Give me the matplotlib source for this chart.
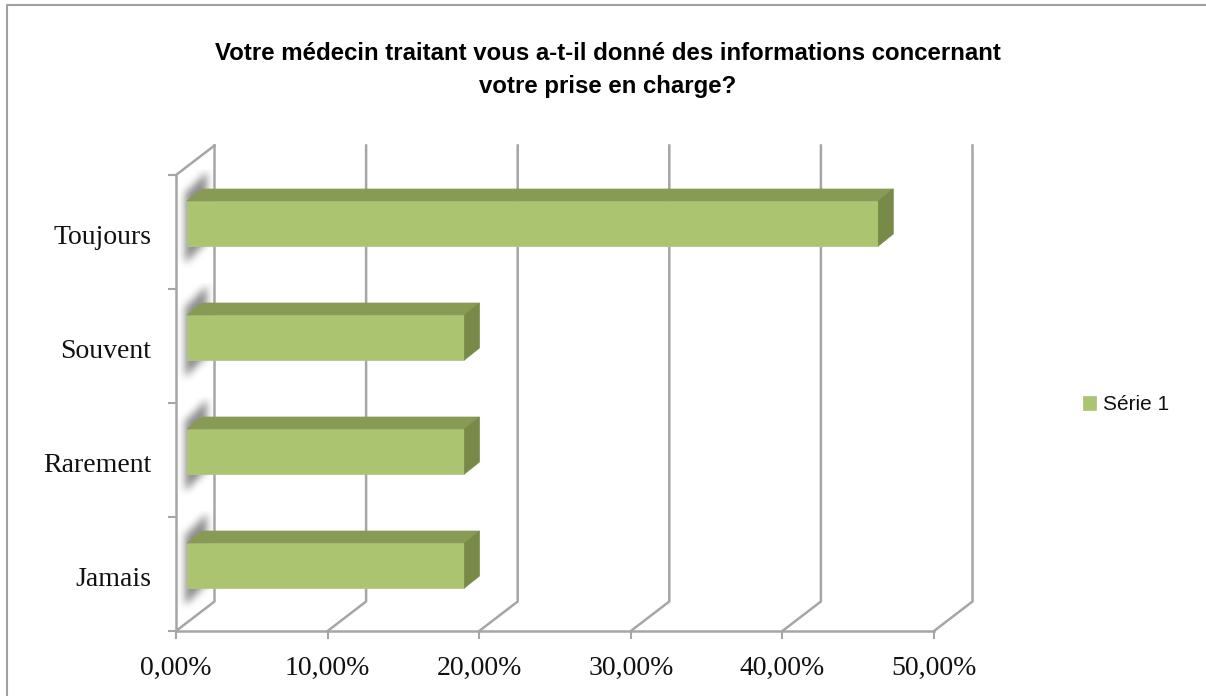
import matplotlib
matplotlib.use("Agg")
import matplotlib.pyplot as plt
import numpy as np
from matplotlib.lines import Line2D

# data
categories = ["Jamais", "Rarement", "Souvent", "Toujours"]
values = [18.3, 18.3, 18.3, 45.6]
xticks = [0, 10, 20, 30, 40, 50]
xticklabels = ["0,00%", "10,00%", "20,00%", "30,00%", "40,00%", "50,00%"]
series_name = "Série 1"
title = "Votre médecin traitant vous a-t-il donné des informations concernant\nvotre prise en charge?"

GREY = "#a6a6a6"
FRONT = "#aac46f"
TOP = "#879b54"
SIDE = "#788a47"

W, H = 1206, 696
fig = plt.figure(figsize=(W / 100, H / 100), dpi=100)
# only the top and left edges of the frame are in the picture
fig.add_artist(Line2D([6.5 / W, 6.5 / W, 1], [0, 1 - 4.5 / H, 1 - 4.5 / H], transform=fig.transFigure,
                      color="#a0a0a0", lw=1.5))

ax = fig.add_axes([176 / W, (H - 631) / H, (934 - 176) / W, (631 - 175) / H])
ax.patch.set_alpha(0)
ax.set_xlim(0, 50)
ax.set_ylim(0, len(categories))

# pixels -> data units
sx = 50 / 758
sy = len(categories) / 456
dx, dy = 38.5 * sx, 29.5 * sy
ypos = np.arange(len(categories)) + 0.5


def grid_line(xs, ys):
    ax.plot(xs, ys, color=GREY, lw=1.8, clip_on=False, zorder=1, solid_capstyle="projecting")


# walls and gridlines
for t in xticks:
    grid_line([t, t + dx, t + dx], [0, dy, len(categories) + dy])
grid_line([0, 0], [0, len(categories)])
grid_line([0, dx], [len(categories), len(categories) + dy])
grid_line([0, 50], [0, 0])

# blurred shadow on the side wall
for y in ypos:
    nx, ny = 40, 110
    gx, gy = np.meshgrid(np.arange(nx), np.arange(ny))
    shear = (gx - 9) * 0.95
    inside = ((gx >= 8) & (gx <= 29) & (gy + shear >= 22) & (gy + shear <= 92)).astype(float)
    k = np.ones(9) / 9
    for _ in range(2):
        inside = np.apply_along_axis(lambda r: np.convolve(r, k, mode="same"), 0, inside)
        inside = np.apply_along_axis(lambda r: np.convolve(r, k, mode="same"), 1, inside)
    rgba = np.zeros((ny, nx, 4))
    rgba[..., :3] = 0.45
    rgba[..., 3] = inside * 0.8
    x0 = 0.5 * sx
    y_top = y + (8.5 + 22.5 + 32) * sy
    ax.imshow(rgba, extent=[x0, x0 + nx * sx, y_top - ny * sy, y_top], aspect="auto",
              zorder=1.5, clip_on=False, interpolation="bilinear")
ax.set_xlim(0, 50)
ax.set_ylim(0, len(categories))

# bars
bar_left = 11 * sx
bar_h = 45 * sy
bar_up = 8.5 * sy
bx, by = 15 * sx, 12 * sy
ax.barh(ypos + bar_up, values, height=bar_h, left=bar_left, color=FRONT, edgecolor="#b4c48c", lw=0.6,
        zorder=3, label=series_name)
for y, v in zip(ypos + bar_up, values):
    x1 = bar_left + v
    top = y + bar_h / 2
    bottom = y - bar_h / 2
    ax.fill([bar_left, x1, x1 + bx, bar_left + bx], [top, top, top + by, top + by], color=TOP, lw=0.5, zorder=3)
    ax.fill([x1, x1 + bx, x1 + bx, x1], [bottom, bottom + by, top + by, top], color=SIDE, lw=0.5, zorder=3)

# axes
for s in ax.spines.values():
    s.set_visible(False)
ax.set_xticks(xticks)
ax.set_xticklabels(xticklabels, family="Liberation Serif", fontsize=20, color="#111111")
ax.set_yticks(np.arange(len(categories) + 1))
ax.set_yticklabels([])
ax.tick_params(axis="both", color=GREY, width=1.5, length=6)
ax.tick_params(axis="x", pad=12)
for y, c in zip(ypos, categories):
    ax.annotate(c, (0, y), xytext=(-25, -5), textcoords="offset pixels", ha="right", va="center",
                family="Liberation Serif", fontsize=20, color="#111111")

fig.text(607.5 / W, 1 - 70 / H, title, ha="center", va="center", family="Liberation Sans", weight="bold",
         fontsize=17.3, linespacing=1.6, color="black")

ax.legend(loc="center left", bbox_to_anchor=(1064 / W, 1 - 405 / H), bbox_transform=fig.transFigure,
          frameon=False, prop={"family": "Liberation Sans", "size": 15}, handlelength=0.65, handleheight=0.65,
          handletextpad=0.3, labelcolor="#111111")

plt.savefig("out.png", dpi=100)
